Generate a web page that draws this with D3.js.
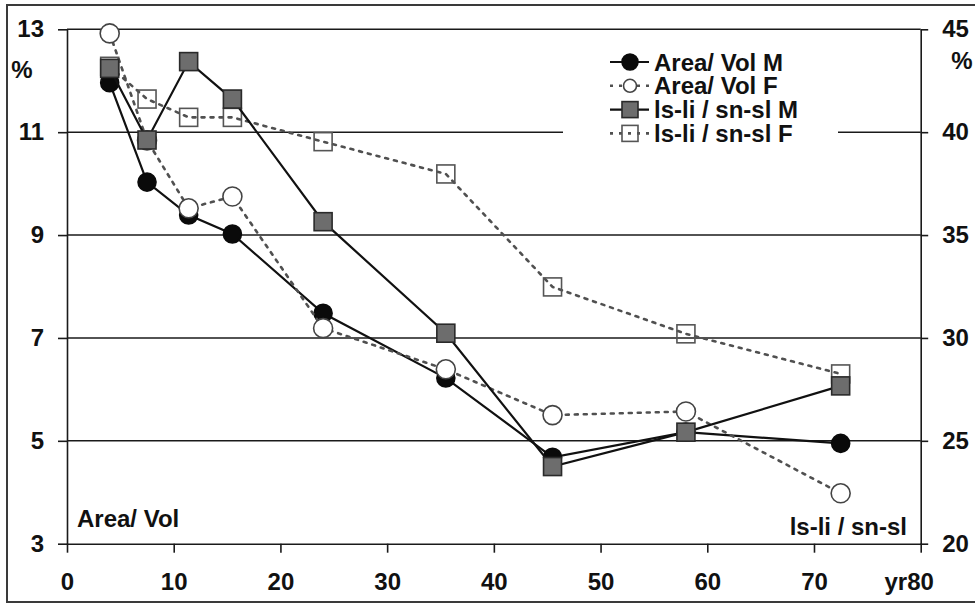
<!DOCTYPE html>
<html>
<head>
<meta charset="utf-8">
<script src="https://cdn.jsdelivr.net/npm/d3@7"></script>
<style>
  body { margin: 0; background: #fff; }
  svg { display: block; font-family: "Liberation Sans", Arial, sans-serif; font-weight: bold; }
</style>
</head>
<body>
<svg id="chart" width="975" height="604"></svg>
<script>
// age of the groups (years, x axis)
const ages = [4, 7.5, 11.4, 15.5, 24, 35.5, 45.5, 58, 72.5];

// left axis (Area/ Vol, %)
const areaVolM = [11.96, 10.03, 9.39, 9.02, 7.48, 6.22, 4.68, 5.17, 4.95];
const areaVolF = [12.92, 10.84, 9.52, 9.75, 7.19, 6.39, 5.5, 5.57, 3.98];

// right axis (ls-li / sn-sl, %)
const lsliM = [43.1, 39.62, 43.43, 41.61, 35.65, 30.23, 23.75, 25.42, 27.67];
const lsliF = [43.2, 41.61, 40.72, 40.72, 39.54, 37.97, 32.48, 30.2, 28.25];

const xTicks = [0, 10, 20, 30, 40, 50, 60, 70, 80];
const leftTicks = [3, 5, 7, 9, 11, 13];
const rightTicks = [20, 25, 30, 35, 40, 45];
const legendLabels = ['Area/ Vol M', 'Area/ Vol F', 'ls-li / sn-sl M', 'ls-li / sn-sl F'];

const svg = d3.select('#chart');

const x = d3.scaleLinear().domain([0, 80]).range([67, 920.7]);
const yL = d3.scaleLinear().domain([3, 13]).range([543.7, 29.3]);
const yR = d3.scaleLinear().domain([20, 45]).range([543.7, 29.3]);

// outer frame (right side runs off the picture)
svg.append('rect')
    .attr('x', 7).attr('y', 5)
    .attr('width', 990).attr('height', 597)
    .attr('fill', 'none')
    .attr('stroke', '#3a3a3a')
    .attr('stroke-width', 2);

// horizontal grid lines
svg.append('g')
    .selectAll('line')
    .data(leftTicks.slice(1))
    .enter().append('line')
    .attr('x1', x(0)).attr('x2', x(80))
    .attr('y1', d => yL(d)).attr('y2', d => yL(d))
    .attr('stroke', '#1a1a1a')
    .attr('stroke-width', 1.6);

function styleAxis(g) {
    g.selectAll('path, line').attr('stroke', '#1a1a1a').attr('stroke-width', 1.6);
    g.selectAll('text').attr('fill', '#111')
        .style('font-size', '24px')
        .style('font-family', '"Liberation Sans", Arial, sans-serif')
        .style('font-weight', 'bold');
}

svg.append('g')
    .attr('transform', `translate(${x(0)},0)`)
    .call(d3.axisLeft(yL).tickValues(leftTicks).tickSize(9).tickSizeOuter(0).tickPadding(14))
    .call(styleAxis);

svg.append('g')
    .attr('transform', `translate(${x(80)},0)`)
    .call(d3.axisRight(yR).tickValues(rightTicks).tickSize(7.5).tickSizeOuter(0).tickPadding(14))
    .call(styleAxis);

const xAxis = svg.append('g')
    .attr('transform', `translate(0,${yL(3)})`)
    .call(d3.axisBottom(x).tickValues(xTicks).tickSize(9).tickSizeOuter(0).tickPadding(20)
        .tickFormat(d => d === 80 ? 'yr80' : d))
    .call(styleAxis);
xAxis.selectAll('.tick').filter(d => d === 80).select('text').attr('dx', -12);

// % unit labels
svg.append('text').attr('x', 22).attr('y', 78).attr('text-anchor', 'middle')
    .style('font-size', '24px').attr('fill', '#111').text('%');
svg.append('text').attr('x', 962).attr('y', 69).attr('text-anchor', 'middle')
    .style('font-size', '24px').attr('fill', '#111').text('%');

// axis captions inside plot
svg.append('text').attr('x', 77).attr('y', 527)
    .style('font-size', '24px').attr('fill', '#111').text('Area/ Vol');
svg.append('text').attr('x', 907).attr('y', 535).attr('text-anchor', 'end')
    .style('font-size', '24px').attr('fill', '#111').text('ls-li / sn-sl');

// series
const solid = {stroke: '#111', width: 2.2, dash: null};
const dotted = {stroke: '#505050', width: 2.6, dash: '3,6'};

const series = [
    {name: legendLabels[0], vals: areaVolM, y: yL, line: solid, shape: 'circle', fill: '#0a0a0a', edge: '#0a0a0a', r: 9},
    {name: legendLabels[1], vals: areaVolF, y: yL, line: dotted, shape: 'circle', fill: '#fff', edge: '#444', r: 9.5},
    {name: legendLabels[3], vals: lsliF, y: yR, line: dotted, shape: 'square', fill: 'none', edge: '#555', r: 9},
    {name: legendLabels[2], vals: lsliM, y: yR, line: solid, shape: 'square', fill: '#6d6d6d', edge: '#2a2a2a', r: 9}
];

const plot = svg.append('g');

function drawMarker(g, s, cx, cy, r) {
    if (s.shape === 'circle') {
        g.append('circle').attr('cx', cx).attr('cy', cy).attr('r', r)
            .attr('fill', s.fill).attr('stroke', s.edge).attr('stroke-width', 1.6);
    } else {
        g.append('rect').attr('x', cx - r).attr('y', cy - r)
            .attr('width', 2 * r).attr('height', 2 * r)
            .attr('fill', s.fill).attr('stroke', s.edge).attr('stroke-width', 1.6);
    }
}

series.forEach(function (s) {
    const line = d3.line()
        .x((d, i) => x(ages[i]))
        .y(d => s.y(d));
    plot.append('path')
        .datum(s.vals)
        .attr('d', line)
        .attr('fill', 'none')
        .attr('stroke', s.line.stroke)
        .attr('stroke-width', s.line.width)
        .attr('stroke-dasharray', s.line.dash)
        .attr('stroke-linecap', s.line.dash ? 'round' : 'butt');
    const mg = plot.append('g');
    s.vals.forEach(function (v, i) {
        drawMarker(mg, s, x(ages[i]), s.y(v), s.r);
    });
});

// legend
svg.append('rect')
    .attr('x', 563).attr('y', 45)
    .attr('width', 275).attr('height', 103)
    .attr('fill', '#fff');

const legendOrder = [series[0], series[1], series[3], series[2]];
const legendSizes = [8, 6.5, 8, 8];
legendOrder.forEach(function (s, i) {
    const cy = 62 + i * 23.8;
    const g = svg.append('g');
    g.append('line')
        .attr('x1', 610).attr('x2', 649)
        .attr('y1', cy).attr('y2', cy)
        .attr('stroke', s.line.stroke)
        .attr('stroke-width', s.line.width)
        .attr('stroke-dasharray', s.line.dash);
    drawMarker(g, s, 630, cy, legendSizes[i]);
    g.append('text')
        .attr('x', 654).attr('y', cy + 8.5)
        .style('font-size', '24px')
        .attr('fill', '#111')
        .text(s.name);
});
</script>
</body>
</html>
